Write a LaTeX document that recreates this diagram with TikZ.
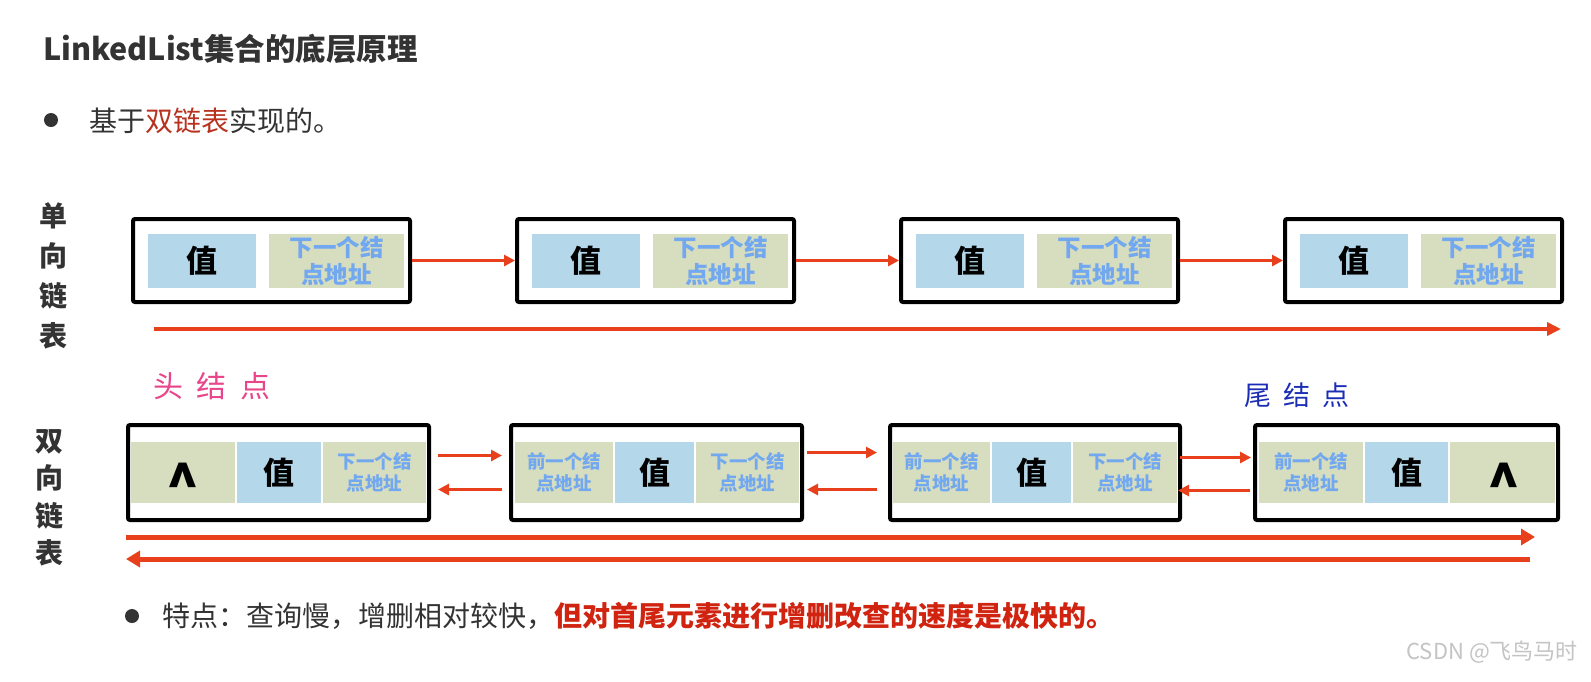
\documentclass[tikz,border=0pt]{standalone}
\usepackage{fontspec}
\setmainfont{Noto Sans CJK SC}
\usetikzlibrary{arrows.meta,calc}
\definecolor{valblue}{HTML}{B4D8EA}
\definecolor{nextolive}{HTML}{D7DDBF}
\definecolor{celltxt}{HTML}{72A8EF}
\definecolor{arrred}{HTML}{E8401C}
\definecolor{txtgray}{HTML}{333333}
\definecolor{hlred}{HTML}{B83220}
\definecolor{boldred}{HTML}{D02410}
\definecolor{headpink}{HTML}{E8458A}
\definecolor{tailblue}{HTML}{1B2DB5}
\definecolor{wmgray}{HTML}{C4C4C4}
\begin{document}
\begin{tikzpicture}[x=1pt,y=-1pt,
  nodebox/.style={draw=black, line width=4pt, rounded corners=2pt, inner sep=0pt},
  cell/.style={inner sep=0pt, outer sep=0pt, align=center},
  valcell/.style={cell, fill=valblue, font=\fontsize{31}{33}\selectfont\bfseries},
  ptrcell/.style={cell, fill=nextolive, text=celltxt, font=\fontsize{23.5}{26.5}\selectfont\bfseries},
  ptrcellsm/.style={cell, fill=nextolive, text=celltxt, font=\fontsize{18.5}{22}\selectfont\bfseries},
  nullcell/.style={cell, fill=nextolive},
  nulltxt/.style={inner sep=0pt, font=\fontsize{54}{54}\selectfont\bfseries},
  linkarrow/.style={draw=arrred, line width=3pt, -{Triangle[length=11pt,width=11pt]}},
  longarrow/.style={draw=arrred, line width=4pt, -{Triangle[length=14pt,width=13pt]}},
  dlongarrow/.style={draw=arrred, line width=5pt, -{Triangle[length=14pt,width=16pt]}},
  plain/.style={inner sep=0pt, anchor=west},
]
\fill[white] (0,0) rectangle (1591,681);
\useasboundingbox (0,0) rectangle (1591,681);

% title and first bullet
\node[plain, font=\fontsize{30.5}{33}\selectfont\bfseries, text=txtgray] (title) at (43,49) {LinkedList集合的底层原理};
\node[circle, fill=txtgray, minimum size=14pt, inner sep=0pt] (dot1) at (51,120) {};
\node[plain, font=\fontsize{28}{30}\selectfont, text=txtgray] (t1) at (89,121) {基于\textcolor{hlred}{双链表}实现的。};

% side labels
\node[inner sep=0pt, font=\fontsize{28}{40}\selectfont\bfseries, align=center, text=txtgray] (lab1) at (53,276) {单\\向\\链\\表};
\node[inner sep=0pt, font=\fontsize{28}{37.5}\selectfont\bfseries, align=center, text=txtgray] (lab2) at (49,498) {双\\向\\链\\表};

% singly linked list
\foreach \i/\x in {1/133,2/517,3/901,4/1285} {
  \node[nodebox, minimum width=277pt, minimum height=83pt] (s\i) at (\x+138.5,260.5) {};
  \node[valcell, minimum width=108pt, minimum height=54pt] (sv\i) at (\x+69,261) {值};
  \node[ptrcell, minimum width=135pt, minimum height=54pt] (sn\i) at (\x+203.5,261) {下一个结\\点地址};
}
\foreach \a/\b in {1/2,2/3,3/4} \draw[linkarrow] (s\a.east) -- (s\b.west);
\coordinate (sA) at (154,329);
\coordinate (sB) at (1561,329);
\draw[longarrow] (sA) -- (sB);

% head / tail labels
\node[inner sep=0pt, font=\fontsize{30}{32}\selectfont, text=headpink] (head) at (212,386) {头\hspace{14pt}结\hspace{14pt}点};
\node[inner sep=0pt, font=\fontsize{27}{30}\selectfont, text=tailblue] (tail) at (1297,395) {尾\hspace{12pt}结\hspace{12pt}点};

% doubly linked list boxes
\node[nodebox, minimum width=301pt, minimum height=95pt] (d1) at (278.5,472.5) {};
\node[nodebox, minimum width=291pt, minimum height=95pt] (d2) at (656.5,472.5) {};
\node[nodebox, minimum width=290pt, minimum height=95pt] (d3) at (1035,472.5) {};
\node[nodebox, minimum width=303pt, minimum height=95pt] (d4) at (1406.5,472.5) {};

% d1 cells
\node[nullcell, minimum width=104pt, minimum height=61pt] (d1n) at (183,472.5) {};
\node[nulltxt] (d1c) at (183,484) {\textasciicircum};
\node[valcell, minimum width=84pt, minimum height=61pt] (d1v) at (279,472.5) {值};
\node[ptrcellsm, minimum width=103pt, minimum height=61pt] (d1x) at (374.5,472.5) {下一个结\\点地址};
% d2 cells
\node[ptrcellsm, minimum width=98pt, minimum height=61pt] (d2p) at (564,472.5) {前一个结\\点地址};
\node[valcell, minimum width=79pt, minimum height=61pt] (d2v) at (654.5,472.5) {值};
\node[ptrcellsm, minimum width=103pt, minimum height=61pt] (d2x) at (747.5,472.5) {下一个结\\点地址};
% d3 cells
\node[ptrcellsm, minimum width=97pt, minimum height=61pt] (d3p) at (941.5,472.5) {前一个结\\点地址};
\node[valcell, minimum width=79pt, minimum height=61pt] (d3v) at (1031.5,472.5) {值};
\node[ptrcellsm, minimum width=104pt, minimum height=61pt] (d3x) at (1125,472.5) {下一个结\\点地址};
% d4 cells
\node[ptrcellsm, minimum width=104pt, minimum height=61pt] (d4p) at (1311,472.5) {前一个结\\点地址};
\node[valcell, minimum width=83pt, minimum height=61pt] (d4v) at (1406.5,472.5) {值};
\node[nullcell, minimum width=105pt, minimum height=61pt] (d4n) at (1502.5,472.5) {};
\node[nulltxt] (d4c) at (1504,484) {\textasciicircum};

% doubly links
\draw[linkarrow] ([xshift=7pt,yshift=17pt]d1.east) -- ([xshift=-7pt,yshift=17pt]d2.west);
\draw[linkarrow] ([xshift=-7pt,yshift=-17pt]d2.west) -- ([xshift=7pt,yshift=-17pt]d1.east);
\draw[linkarrow] ([xshift=3pt,yshift=20pt]d2.east) -- ([xshift=-11pt,yshift=20pt]d3.west);
\draw[linkarrow] ([xshift=-11pt,yshift=-17pt]d3.west) -- ([xshift=3pt,yshift=-17pt]d2.east);
\draw[linkarrow] ([xshift=-2pt,yshift=15pt]d3.east) -- ([xshift=-2pt,yshift=15pt]d4.west);
\draw[linkarrow] ([xshift=-3pt,yshift=-18pt]d4.west) -- ([xshift=-4pt,yshift=-18pt]d3.east);

\coordinate (dA) at (126,537);
\coordinate (dB) at (1535,537);
\coordinate (dC) at (1530,559);
\coordinate (dD) at (126,559);
\draw[dlongarrow] (dA) -- (dB);
\draw[dlongarrow] (dC) -- (dD);

% second bullet
\node[circle, fill=txtgray, minimum size=14pt, inner sep=0pt] (dot2) at (132,616) {};
\node[plain, font=\fontsize{28}{30}\selectfont, text=txtgray] (t2) at (162,616) {特点：查询慢，增删相对较快，\textcolor{boldred}{\bfseries 但对首尾元素进行增删改查的速度是极快的。}};

% watermark
\node[inner sep=0pt, anchor=east, font=\fontsize{22}{24}\selectfont, text=wmgray] (wm) at (1578,652) {CSDN @飞鸟马时};
\end{tikzpicture}
\end{document}
